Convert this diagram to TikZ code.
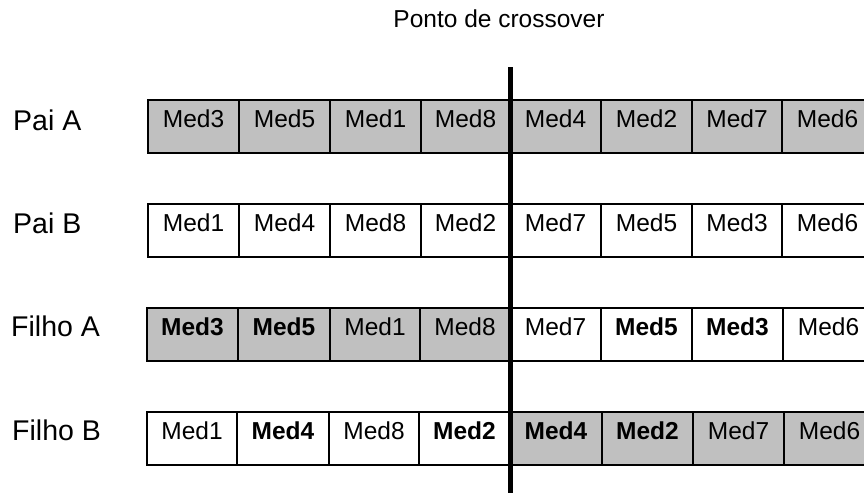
\documentclass[tikz,border=0pt]{standalone}
\usepackage{fontspec}
\setmainfont{Liberation Sans}
\definecolor{cellgray}{RGB}{192,192,192}
\begin{document}
\begin{tikzpicture}[x=1pt,y=-1pt,
  cellbox/.style={draw, line width=1.3pt, inner sep=0pt, outer sep=0pt,
    minimum height=53pt, text height=27pt, text depth=26pt, anchor=north west,
    font=\fontsize{24.5}{29}\selectfont},
  rowframe/.style={draw, line width=2.2pt},
  rowlabel/.style={anchor=base west, inner sep=0pt, font=\fontsize{28.5}{34}\selectfont},
  titlelabel/.style={anchor=base, inner sep=0pt, font=\fontsize{24.5}{29}\selectfont},
  crossline/.style={line width=5pt}]
\useasboundingbox (0,0) rectangle (864,493);
\clip (0,0) rectangle (864,493);
\fill[white] (0,0) rectangle (864,493);

% Row 1: Pai A
\foreach \c/\x/\w/\f/\t in {1/148/91/cellgray/Med3, 2/239/91/cellgray/Med5, 3/330/91/cellgray/Med1, 4/421/89/cellgray/Med8,
  5/510/91/cellgray/Med4, 6/601/91/cellgray/Med2, 7/692/90/cellgray/Med7, 8/782/91/cellgray/Med6}
  \node[cellbox, fill=\f, minimum width=\w pt] (ra\c) at (\x,100) {\t};
\draw[rowframe] (ra1.north west) rectangle (ra8.south east);

% Row 2: Pai B
\foreach \c/\x/\w/\f/\t in {1/148/91/white/Med1, 2/239/91/white/Med4, 3/330/91/white/Med8, 4/421/89/white/Med2,
  5/510/91/white/Med7, 6/601/91/white/Med5, 7/692/90/white/Med3, 8/782/91/white/Med6}
  \node[cellbox, fill=\f, minimum width=\w pt] (rb\c) at (\x,204) {\t};
\draw[rowframe] (rb1.north west) rectangle (rb8.south east);

% Row 3: Filho A
\foreach \c/\x/\w/\f/\t in {1/147/91/cellgray/\textbf{Med3}, 2/238/92/cellgray/\textbf{Med5}, 3/330/90/cellgray/Med1, 4/420/90/cellgray/Med8,
  5/510/91/white/Med7, 6/601/91/white/\textbf{Med5}, 7/692/91/white/\textbf{Med3}, 8/783/91/white/Med6}
  \node[cellbox, fill=\f, minimum width=\w pt] (rc\c) at (\x,308) {\t};
\draw[rowframe] (rc1.north west) rectangle (rc8.south east);

% Row 4: Filho B
\foreach \c/\x/\w/\f/\t in {1/147/90/white/Med1, 2/237/92/white/\textbf{Med4}, 3/329/90/white/Med8, 4/419/91/white/\textbf{Med2},
  5/510/92/cellgray/\textbf{Med4}, 6/602/91/cellgray/\textbf{Med2}, 7/693/91/cellgray/Med7, 8/784/91/cellgray/Med6}
  \node[cellbox, fill=\f, minimum width=\w pt] (rd\c) at (\x,412) {\t};
\draw[rowframe] (rd1.north west) rectangle (rd8.south east);

% Row labels
\node[rowlabel] (la) at (13,130) {Pai A};
\node[rowlabel] (lb) at (13,233) {Pai B};
\node[rowlabel] (lc) at (11,336) {Filho A};
\node[rowlabel] (ld) at (12,440) {Filho B};

% Crossover point
\node[titlelabel] (title) at (499,27) {Ponto de crossover};
\coordinate (xtop) at (510.5,67);
\coordinate (xbot) at (510.5,493);
\draw[crossline] (xtop) -- (xbot);
\end{tikzpicture}
\end{document}
